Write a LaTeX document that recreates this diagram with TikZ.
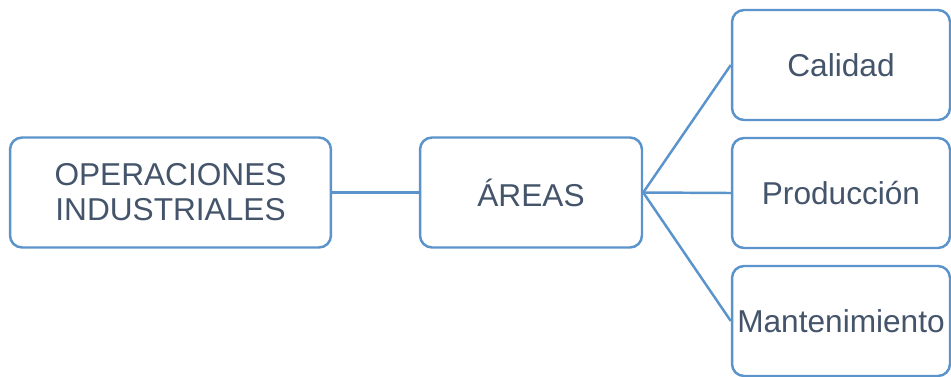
\documentclass[tikz,border=0pt]{standalone}
\usepackage{fontspec}
\setmainfont{Liberation Sans}
\usetikzlibrary{positioning}

\definecolor{boxline}{HTML}{5B93CB}
\definecolor{boxtext}{HTML}{44546A}

\begin{document}
\begin{tikzpicture}[
  x=0.02cm, y=-0.02cm,
  box/.style={rectangle, rounded corners=0.24cm, draw=boxline, line width=1.4pt, fill=white, text=boxtext, align=center, inner sep=1pt, font=\fontsize{18}{20}\selectfont, minimum height=2.2cm}, % common look of all boxes
  link/.style={draw=boxline, line width=1.4pt} % plain connector lines
]
\useasboundingbox (0,0) rectangle (951,376);

% Main levels
\node[box, minimum width=6.42cm] (oper) at (170.5,192.5) {OPERACIONES\\INDUSTRIALES};
\node[box, minimum width=4.44cm] (areas) at (531,192.5) {ÁREAS};

% Areas
\node[box, minimum width=4.36cm] (calidad) at (841,65) {Calidad};
\node[box, minimum width=4.36cm] (produccion) at (841,193) {Producción};
\node[box, minimum width=4.36cm] (mant) at (841,321) {Mantenimiento};

% Connectors
\draw[link] (oper.east) -- (areas.west);
\foreach \n in {calidad, produccion, mant}
  \draw[link] (areas.east) -- (\n.west);

\end{tikzpicture}
\end{document}
